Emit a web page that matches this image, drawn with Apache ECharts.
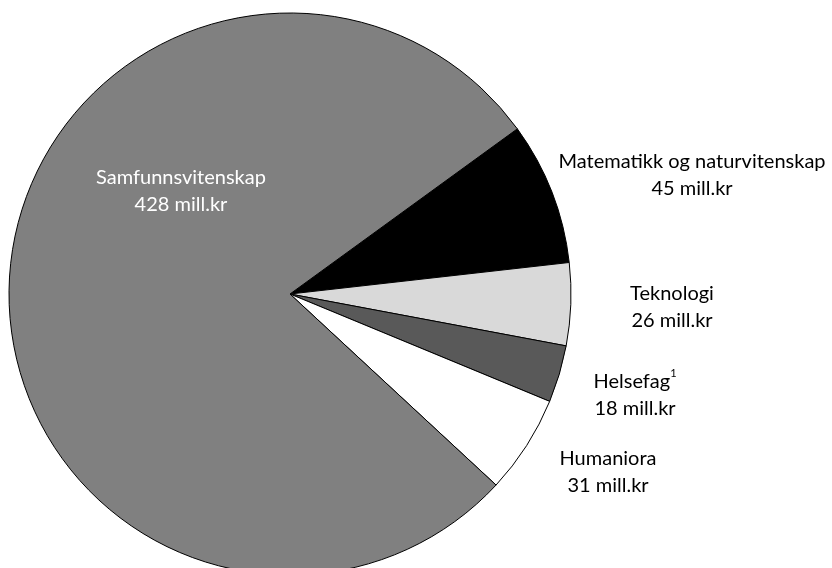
<!DOCTYPE html>
<html>
<head>
<meta charset="utf-8">
<script src="https://cdn.jsdelivr.net/npm/echarts@6/dist/echarts.min.js"></script>
<style>
  html, body { margin: 0; padding: 0; background: #fff; }
  #chart { width: 832px; height: 568px; }
</style>
</head>
<body>
<div id="chart"></div>
<script>
// data, ordered clockwise from the top-right edge of the big slice
const categories = ['Matematikk og naturvitenskap', 'Teknologi', 'Helsefag', 'Humaniora', 'Samfunnsvitenskap']
const values = [45, 26, 18, 31, 428]
const notes = ['', '', '1', '', '']
const unit = 'mill.kr'

const colors = ['#000000', '#d9d9d9', '#595959', '#ffffff', '#808080']
const labelColors = ['#000', '#000', '#000', '#000', '#fff']
// label centre points (px)
const labelPos = [[692, 175], [672, 307], [635, 395], [608, 472], [181, 191]]

const chart = echarts.init(document.getElementById('chart'))

const option = {
  animation: false,
  series: [
    {
      type: 'pie',
      center: [290, 294],
      radius: 281,
      startAngle: 36,
      clockwise: true,
      avoidLabelOverlap: false,
      itemStyle: {
        borderColor: '#000',
        borderWidth: 1
      },
      label: {
        show: true,
        position: 'outside',
        fontFamily: 'Lato',
        fontSize: 20,
        lineHeight: 26,
        align: 'center',
        formatter: (p) => {
          const i = p.dataIndex
          const sup = notes[i] ? '{sup|' + notes[i] + '}' : ''
          return '{t|' + p.name + '}' + sup + '\n{t|' + p.value + ' ' + unit + '}'
        },
        rich: {
          t: { fontFamily: 'Lato', fontSize: 20, lineHeight: 27 },
          sup: { fontFamily: 'Lato', fontSize: 11, lineHeight: 27, verticalAlign: 'top', padding: [0, 0, 12, 0] }
        }
      },
      labelLine: { show: false },
      labelLayout: (params) => {
        const p = labelPos[params.dataIndex]
        return { x: p[0], y: p[1], align: 'center', verticalAlign: 'middle' }
      },
      data: categories.map((name, i) => ({
        name: name,
        value: values[i],
        itemStyle: { color: colors[i] },
        label: { color: labelColors[i], rich: { t: { color: labelColors[i] }, sup: { color: labelColors[i] } } }
      }))
    }
  ]
}

chart.setOption(option)
</script>
</body>
</html>
